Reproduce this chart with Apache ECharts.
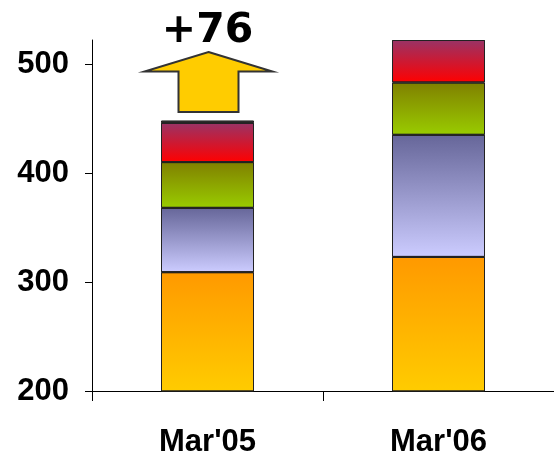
<!DOCTYPE html>
<html>
<head>
<meta charset="utf-8">
<script src="https://cdn.jsdelivr.net/npm/echarts@6/dist/echarts.min.js"></script>
<style>
  html, body { margin: 0; padding: 0; background: #ffffff; }
  #chart { width: 554px; height: 458px; }
</style>
</head>
<body>
<div id="chart"></div>
<script>
// ---- data ----
const categories = ["Mar'05", "Mar'06"];
const segOrange   = [309, 323];
const segLavender = [59, 112];
const segGreen    = [42, 48];
const segRed      = [36, 39];
const segGray     = [2, null];
const yTickValues = [200, 300, 400, 500];
const deltaText = '+76';
// arrow annotation (value units): shaft base, shoulder, tip, label centre
const arrowBase = 456, arrowShoulder = 493, arrowTip = 511, arrowLabel = 530;

function grad(top, bottom) {
  return new echarts.graphic.LinearGradient(0, 0, 0, 1, [
    { offset: 0, color: top },
    { offset: 1, color: bottom }
  ]);
}
const border = { borderColor: '#222', borderWidth: 1 };
function seg(name, data, top, bottom) {
  return {
    name, type: 'bar', stack: 'total', data,
    barWidth: 93, clip: true,
    itemStyle: Object.assign({ color: grad(top, bottom) }, border),
    emphasis: { disabled: true }
  };
}

const chart = echarts.init(document.getElementById('chart'), null, { renderer: 'canvas' });
const font = { fontFamily: '"Liberation Sans", Arial, sans-serif', fontWeight: 'bold', fontSize: 31, color: '#000' };

chart.setOption({
  backgroundColor: '#ffffff',
  animation: false,
  grid: { left: 92, top: 40, height: 352, width: 466 },
  xAxis: {
    type: 'category',
    data: categories,
    boundaryGap: true,
    axisLine: { lineStyle: { color: '#000', width: 1 } },
    axisTick: { show: true, length: 10, lineStyle: { color: '#000' } },
    axisLabel: Object.assign({ margin: 36 }, font),
    splitLine: { show: false }
  },
  yAxis: {
    type: 'value',
    min: 200, max: 522, interval: 100,
    axisLine: { show: true, lineStyle: { color: '#000', width: 1 } },
    axisTick: { show: true, length: 7, lineStyle: { color: '#000' }, customValues: yTickValues },
    axisLabel: Object.assign({ margin: 23, customValues: yTickValues }, font),
    splitLine: { show: false }
  },
  series: [
    seg('s1', segOrange,   '#FF9900', '#FFCC00'),
    seg('s2', segLavender, '#666699', '#CCCCFF'),
    seg('s3', segGreen,    '#808000', '#99CC00'),
    seg('s4', segRed,      '#993366', '#FF0000'),
    seg('s5', segGray,     '#888888', '#666666')
  ]
});

// arrow annotation positioned through the axes
const cx = chart.convertToPixel({ xAxisIndex: 0 }, categories[0]) + 1;
const yBase = chart.convertToPixel({ yAxisIndex: 0 }, arrowBase);
const yShoulder = chart.convertToPixel({ yAxisIndex: 0 }, arrowShoulder);
const yTip = chart.convertToPixel({ yAxisIndex: 0 }, arrowTip);
const yLab = chart.convertToPixel({ yAxisIndex: 0 }, arrowLabel);
const wing = 64, shaft = 30;
chart.setOption({
  graphic: [
    {
      type: 'polygon',
      shape: {
        points: [
          [cx, yTip], [cx + wing, yShoulder], [cx + shaft, yShoulder],
          [cx + shaft, yBase], [cx - shaft, yBase], [cx - shaft, yShoulder],
          [cx - wing, yShoulder]
        ]
      },
      style: { fill: '#FFCC00', stroke: '#333333', lineWidth: 2 }
    },
    {
      type: 'text',
      x: cx - 1, y: yLab,
      style: {
        text: deltaText, fill: '#000',
        font: 'bold 41px "DejaVu Sans"',
        align: 'center', verticalAlign: 'middle'
      }
    }
  ]
});
</script>
</body>
</html>
